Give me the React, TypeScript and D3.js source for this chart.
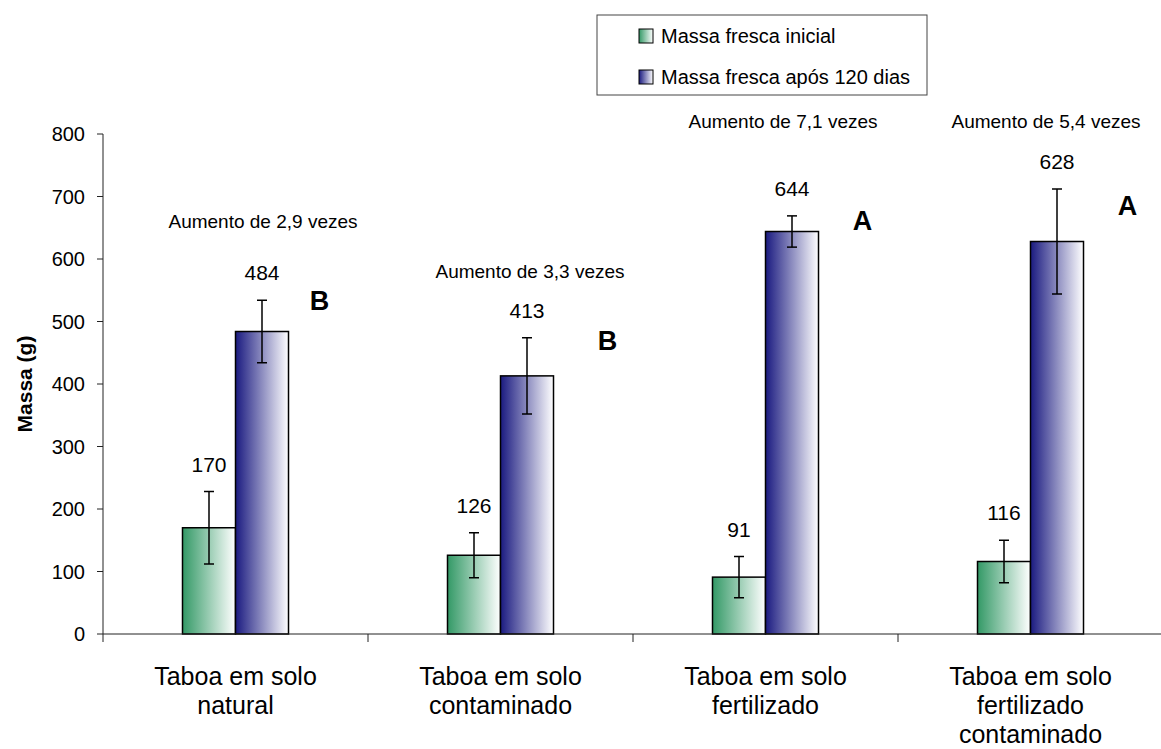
import { useEffect } from 'react'
import * as d3 from 'd3'

const categories = [
  'Taboa em solo\nnatural',
  'Taboa em solo\ncontaminado',
  'Taboa em solo\nfertilizado',
  'Taboa em solo\nfertilizado\ncontaminado',
]
const seriesNames = ['Massa fresca inicial', 'Massa fresca após 120 dias']
const initialMass = [170, 126, 91, 116]
const initialErr = [58, 36, 33, 34]
const finalMass = [484, 413, 644, 628]
const finalErr = [50, 61, 25, 84]
const increaseLabels = [
  'Aumento de 2,9 vezes',
  'Aumento de 3,3 vezes',
  'Aumento de 7,1 vezes',
  'Aumento de 5,4 vezes',
]
const groupLetters = ['B', 'B', 'A', 'A']
const yTicks = [0, 100, 200, 300, 400, 500, 600, 700, 800]

const WIDTH = 1161
const HEIGHT = 749
const FONT = '"Liberation Sans", Arial, sans-serif'

// hand placed annotation levels (in data units) and letter offsets, as in the source
const increaseLevel = [650, 570, 810, 810]
const increaseDx = [1, 3, -9, -11]
const letterLevel = [518, 454, 646, 670]
const letterDx = [31, 54, 44, 44]

export default function App() {
  useEffect(() => {
    document.body.style.margin = '0'
  }, [])

  const x = d3.scaleBand<string>().domain(categories).range([103, 1163])
  const bw = x.bandwidth()
  const inner = d3
    .scaleBand<number>()
    .domain([0, 1])
    .range([bw * 0.3, bw * 0.7])
  const y = d3.scaleLinear().domain([0, 800]).range([634, 134])

  const series = [
    { name: seriesNames[0], values: initialMass, errs: initialErr, grad: 'gGreen' },
    { name: seriesNames[1], values: finalMass, errs: finalErr, grad: 'gBlue' },
  ]

  return (
    <svg width={WIDTH} height={HEIGHT} style={{ display: 'block', background: '#fff' }} fontFamily={FONT}>
      <defs>
        <linearGradient id="gGreen" x1="0" x2="1" y1="0" y2="0">
          <stop offset="0%" stopColor="#339966" />
          <stop offset="100%" stopColor="#ffffff" />
        </linearGradient>
        <linearGradient id="gBlue" x1="0" x2="1" y1="0" y2="0">
          <stop offset="0%" stopColor="#1a1a80" />
          <stop offset="100%" stopColor="#ffffff" />
        </linearGradient>
      </defs>

      {/* y axis */}
      <line x1={103} x2={103} y1={y(800)} y2={y(0)} stroke="#222" strokeWidth={1} />
      {yTicks.map((t) => (
        <g key={t}>
          <line x1={97} x2={103} y1={y(t)} y2={y(t)} stroke="#222" />
          <text x={85} y={y(t)} dy="0.36em" textAnchor="end" fontSize={20}>
            {t}
          </text>
        </g>
      ))}
      <text
        transform={`translate(24,${y(400)}) rotate(-90)`}
        textAnchor="middle"
        dy="0.36em"
        fontSize={21}
        fontWeight="bold"
      >
        Massa (g)
      </text>

      {/* bars */}
      {categories.map((c, i) => (
        <g key={c} transform={`translate(${x(c)},0)`}>
          {series.map((s, j) => {
            const bx = inner(j)!
            const w = inner.bandwidth()
            const cx = bx + w / 2
            const v = s.values[i]
            const e = s.errs[i]
            return (
              <g key={s.name}>
                <rect
                  x={bx}
                  y={y(v)}
                  width={w}
                  height={y(0) - y(v)}
                  fill={`url(#${s.grad})`}
                  stroke="#000"
                  strokeWidth={1.5}
                />
                <line x1={cx} x2={cx} y1={y(v + e)} y2={y(v - e)} stroke="#000" strokeWidth={1.5} />
                <line x1={cx - 5} x2={cx + 5} y1={y(v + e)} y2={y(v + e)} stroke="#000" strokeWidth={1.5} />
                <line x1={cx - 5} x2={cx + 5} y1={y(v - e)} y2={y(v - e)} stroke="#000" strokeWidth={1.5} />
                <text x={cx} y={y(v + e) - 20} textAnchor="middle" fontSize={21}>
                  {v}
                </text>
              </g>
            )
          })}
          <text
            x={inner(1)! + inner.bandwidth() / 2 + increaseDx[i]}
            y={y(increaseLevel[i])}
            textAnchor="middle"
            fontSize={19}
          >
            {increaseLabels[i]}
          </text>
          <text
            x={inner(1)! + inner.bandwidth() + letterDx[i]}
            y={y(letterLevel[i])}
            textAnchor="middle"
            fontSize={27}
            fontWeight="bold"
          >
            {groupLetters[i]}
          </text>
        </g>
      ))}

      {/* x axis */}
      <line x1={103} x2={WIDTH} y1={y(0)} y2={y(0)} stroke="#222" strokeWidth={1} />
      {categories.map((c) => (
        <line key={c} x1={x(c)} x2={x(c)} y1={y(0)} y2={y(0) + 8} stroke="#222" />
      ))}
      {categories.map((c) => (
        <text key={c} textAnchor="middle" fontSize={25}>
          {c.split('\n').map((line, k) => (
            <tspan key={k} x={x(c)! + bw / 2} y={685 + k * 29}>
              {line}
            </tspan>
          ))}
        </text>
      ))}

      {/* legend */}
      <rect x={597} y={15} width={330} height={80} fill="#fff" stroke="#444" strokeWidth={1} />
      {series.map((s, j) => (
        <g key={s.name} transform={`translate(639,${29 + j * 41})`}>
          <rect width={14} height={14} fill={`url(#${s.grad})`} stroke="#000" strokeWidth={1} />
          <text x={22} y={7} dy="0.36em" fontSize={20}>
            {s.name}
          </text>
        </g>
      ))}
    </svg>
  )
}
